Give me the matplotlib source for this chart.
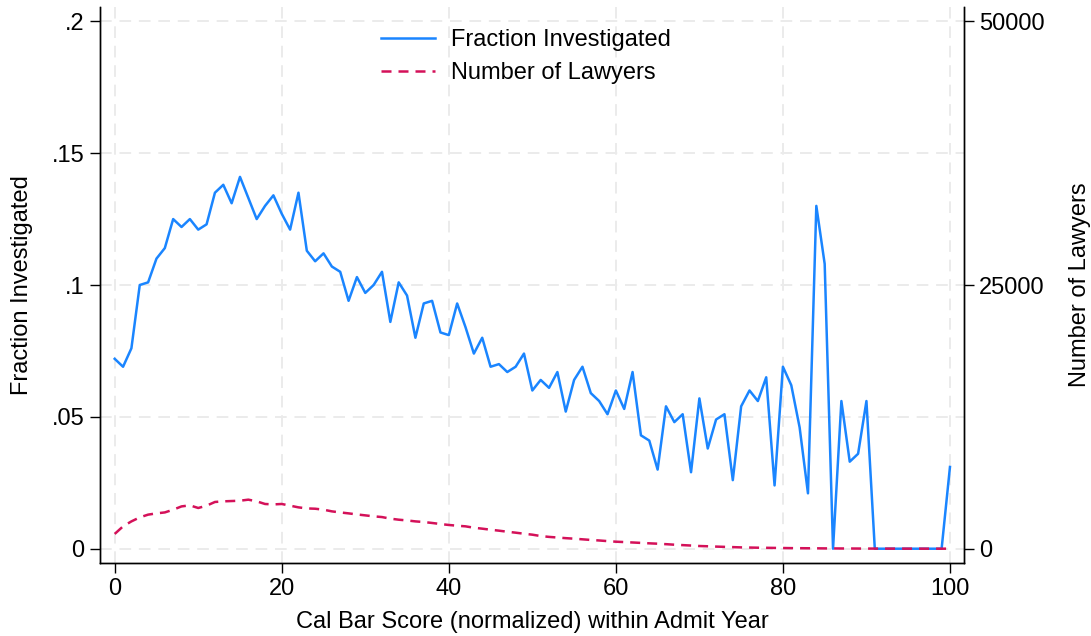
"""Fraction investigated and number of lawyers by normalized Cal Bar score."""

import numpy as np
import matplotlib
matplotlib.use('Agg')
from matplotlib import pyplot as plt

plt.rcParams['font.family'] = ['Liberation Sans', 'DejaVu Sans']

# score bins 0..100
scores = np.arange(0, 101)

# fraction investigated
frac_investigated = [
    0.072, 0.069, 0.076, 0.100, 0.101, 0.110, 0.114, 0.125, 0.122, 0.125,
    0.121, 0.123, 0.135, 0.138, 0.131, 0.141, 0.133, 0.125, 0.130, 0.134,
    0.127, 0.121, 0.135, 0.113, 0.109, 0.112, 0.107, 0.105, 0.094, 0.103,
    0.097, 0.100, 0.105, 0.086, 0.101, 0.096, 0.080, 0.093, 0.094, 0.082,
    0.081, 0.093, 0.084, 0.074, 0.080, 0.069, 0.070, 0.067, 0.069, 0.074,
    0.060, 0.064, 0.061, 0.067, 0.052, 0.064, 0.069, 0.059, 0.056, 0.051,
    0.060, 0.053, 0.067, 0.043, 0.041, 0.030, 0.054, 0.048, 0.051, 0.029,
    0.057, 0.038, 0.049, 0.051, 0.026, 0.054, 0.060, 0.056, 0.065, 0.024,
    0.069, 0.062, 0.046, 0.021, 0.130, 0.108, 0.000, 0.056, 0.033, 0.036,
    0.056, 0.000, 0.000, 0.000, 0.000, 0.000, 0.000, 0.000, 0.000, 0.000,
    0.031,
]

# number of lawyers per bin
num_lawyers = [
    1400, 2120, 2590, 2970, 3230, 3350, 3440, 3700, 4010, 4110,
    3860, 4080, 4430, 4490, 4520, 4550, 4650, 4490, 4240, 4200,
    4240, 4080, 3920, 3820, 3790, 3700, 3540, 3440, 3350, 3250,
    3160, 3070, 3000, 2850, 2750, 2680, 2590, 2530, 2440, 2340,
    2250, 2180, 2120, 1990, 1900, 1800, 1710, 1610, 1520, 1420,
    1330, 1200, 1120, 1060, 1000, 950, 890, 830, 780, 720,
    665, 630, 590, 550, 510, 475, 430, 380, 340, 300,
    255, 230, 200, 175, 150, 125, 110, 95, 85, 75,
    65, 55, 48, 42, 36, 30, 25, 22, 18, 15,
    12, 10, 9, 8, 7, 6, 5, 4, 3, 2,
    2,
]

left_ticks = [0, 0.05, 0.1, 0.15, 0.2]
left_labels = ['0', '.05', '.1', '.15', '.2']
right_ticks = [0, 25000, 50000]
x_ticks = [0, 20, 40, 60, 80, 100]

BLUE = '#1a85ff'
RED = '#d41159'
FS = 17

fig = plt.figure(figsize=(10.91, 6.36), dpi=100)
ax = fig.add_axes([100 / 1091, 1 - 563 / 636, 864 / 1091, 556 / 636])
ax2 = ax.twinx()

line1, = ax.plot(scores, frac_investigated, color=BLUE, lw=1.8,
                 label='Fraction Investigated')
line2, = ax2.plot(scores, num_lawyers, color=RED, lw=1.8,
                  linestyle=(0, (4.0, 2.8)), label='Number of Lawyers')

ax.set_xlim(-1.76, 101.68)
ax.set_ylim(-0.00542, 0.20542)
ax2.set_ylim(-1355, 51355)

ax.set_xticks(x_ticks)
ax.set_yticks(left_ticks)
ax.set_yticklabels(left_labels)
ax2.set_yticks(right_ticks)

# dashed gray grid like Stata
ax.grid(True, color='#ebebeb', linestyle=(0, (6, 4)), lw=1.4)
ax.set_axisbelow(True)

for a in (ax, ax2):
    a.spines['top'].set_visible(False)
    for s in ('left', 'right', 'bottom'):
        a.spines[s].set_linewidth(1.0)
    a.tick_params(labelsize=FS, length=7, width=1.0, pad=4)

ax.set_xlabel('Cal Bar Score (normalized) within Admit Year', fontsize=FS)
ax.set_ylabel('Fraction Investigated', fontsize=FS)
ax2.set_ylabel('Number of Lawyers', fontsize=FS)
ax.xaxis.set_label_coords(0.5, -0.086)
ax.yaxis.set_label_coords(-0.077, 0.5)
ax2.yaxis.set_label_coords(1.121, 0.5)

ax2.legend([line1, line2], ['Fraction Investigated', 'Number of Lawyers'],
           loc='upper center', bbox_to_anchor=(0.493, 1.0), frameon=False,
           fontsize=FS, handlelength=2.3, handletextpad=0.65,
           labelspacing=0.45, borderaxespad=0.55)

fig.savefig('out.png', dpi=100)
